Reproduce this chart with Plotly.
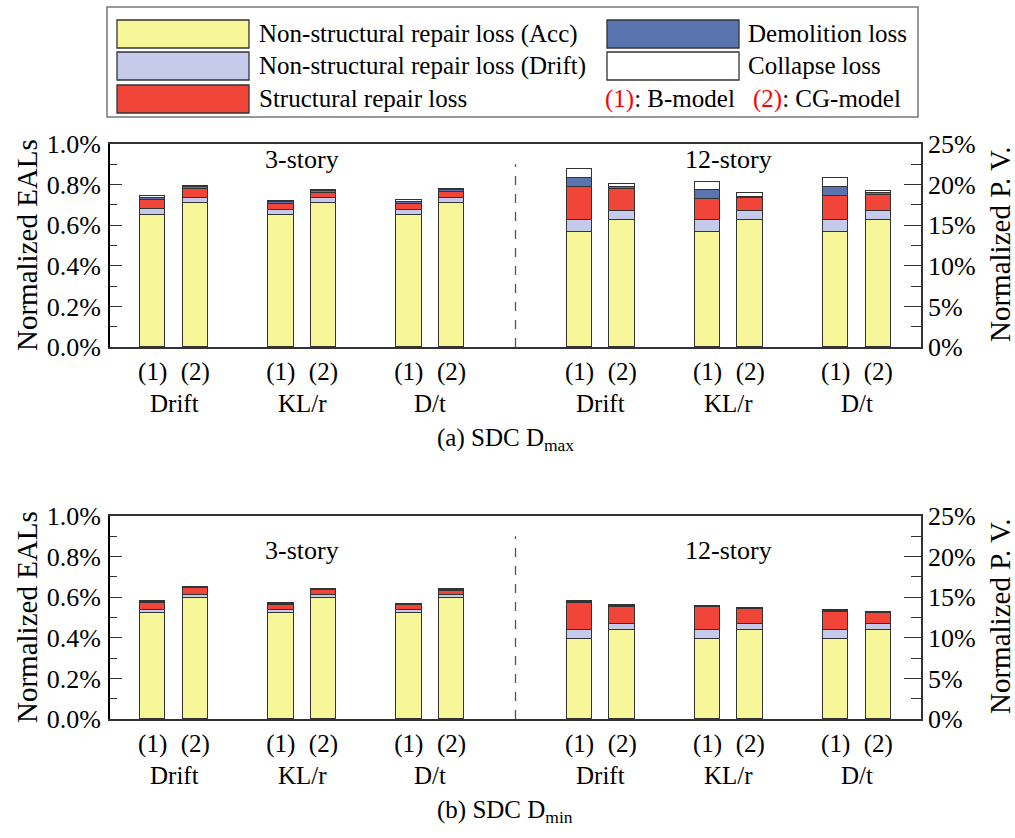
import plotly.graph_objects as go

W, H = 1015, 838

# ---- categories -------------------------------------------------------------
groups = ["Drift", "KL/r", "D/t", "Drift", "KL/r", "D/t"]
models = ["(1)", "(2)"]
x_pos = [0, 1, 3, 4, 6, 7, 10, 11, 13, 14, 16, 17]
group_centers = [0.5, 3.5, 6.5, 10.5, 13.5, 16.5]

# ---- (a) SDC Dmax : normalized EAL components (%) -------------------------
dmax_acc = [0.649, 0.709, 0.649, 0.709, 0.649, 0.709, 0.565, 0.626, 0.565, 0.626, 0.565, 0.626]
dmax_drift = [0.029, 0.023, 0.026, 0.023, 0.026, 0.023, 0.061, 0.042, 0.061, 0.042, 0.061, 0.042]
dmax_struct = [0.0445, 0.048, 0.028, 0.027, 0.031, 0.030, 0.161, 0.112, 0.101, 0.068, 0.116, 0.081]
dmax_demo = [0.0125, 0.010, 0.010, 0.009, 0.010, 0.010, 0.044, 0.007, 0.045, 0.004, 0.045, 0.008]
dmax_coll = [0.007, 0.005, 0.006, 0.005, 0.0065, 0.005, 0.044, 0.018, 0.042, 0.017, 0.044, 0.013]

# ---- (b) SDC Dmin : normalized EAL components (%) -------------------------
dmin_acc = [0.521, 0.594, 0.521, 0.594, 0.521, 0.594, 0.396, 0.437, 0.396, 0.437, 0.396, 0.437]
dmin_drift = [0.014, 0.015, 0.014, 0.015, 0.014, 0.015, 0.044, 0.029, 0.044, 0.029, 0.044, 0.029]
dmin_struct = [0.038, 0.035, 0.028, 0.025, 0.025, 0.023, 0.130, 0.087, 0.110, 0.074, 0.087, 0.058]
dmin_demo = [0.005, 0.004, 0.005, 0.005, 0.005, 0.005, 0.008, 0.005, 0.005, 0.003, 0.007, 0.003]
dmin_coll = [0.002, 0.002, 0.002, 0.003, 0.002, 0.002, 0.003, 0.002, 0.002, 0.002, 0.003, 0.002]

series_names = [
    "Non-structural repair loss (Acc)",
    "Non-structural repair loss (Drift)",
    "Structural repair loss",
    "Demolition loss",
    "Collapse loss",
]
series_colors = ["#F7F799", "#C5CAEA", "#F04538", "#5A74B0", "#FFFFFF"]

FONT = "Times New Roman, Liberation Serif, DejaVu Serif, serif"
EDGE = "#333333"


def px_x(x):
    return x / W


def px_y(y):
    return 1 - y / H


fig = go.Figure()

panels = [
    ("x", "y", [dmax_acc, dmax_drift, dmax_struct, dmax_demo, dmax_coll]),
    ("x2", "y2", [dmin_acc, dmin_drift, dmin_struct, dmin_demo, dmin_coll]),
]
for xa, ya, comps in panels:
    for name, color, vals in zip(series_names, series_colors, comps):
        fig.add_trace(go.Bar(
            x=x_pos, y=vals, name=name, xaxis=xa, yaxis=ya,
            width=0.6, marker=dict(color=color, line=dict(color=EDGE, width=1)),
            showlegend=False,
        ))

# invisible traces so the present-value axes are drawn
fig.add_trace(go.Scatter(x=[0], y=[0], xaxis="x", yaxis="y3", mode="markers",
                         marker=dict(opacity=0), showlegend=False, hoverinfo="skip"))
fig.add_trace(go.Scatter(x=[0], y=[0], xaxis="x2", yaxis="y4", mode="markers",
                         marker=dict(opacity=0), showlegend=False, hoverinfo="skip"))

xdom = [px_x(110), px_x(921)]
ydom_a = [px_y(347), px_y(144)]
ydom_b = [px_y(719), px_y(516)]

tick_font = dict(family=FONT, size=26, color="black")


def x_axis(anchor):
    return dict(
        domain=xdom, anchor=anchor, range=[-1, 18], automargin=False,
        tickvals=x_pos, ticktext=models * 6, ticks="",
        tickfont=dict(family=FONT, size=25, color="black"),
        ticklabelstandoff=1,
        showline=True, linecolor=EDGE, linewidth=1.5, mirror=True,
        showgrid=False, zeroline=False,
    )


def eal_axis(dom, anchor):
    return dict(
        domain=dom, anchor=anchor, range=[0, 1.0], automargin=False,
        tickvals=[0, 0.2, 0.4, 0.6, 0.8, 1.0],
        ticktext=["0.0%", "0.2%", "0.4%", "0.6%", "0.8%", "1.0%"],
        ticks="inside", ticklen=12, tickwidth=1.3, tickcolor=EDGE,
        minor=dict(dtick=0.1, ticks="inside", ticklen=7, tickwidth=1.3, tickcolor=EDGE),
        tickfont=tick_font, ticklabelstandoff=2,
        showline=True, linecolor="black", linewidth=2,
        showgrid=False, zeroline=False,
    )


def pv_axis(over, anchor):
    return dict(
        overlaying=over, anchor=anchor, side="right", range=[0, 25], automargin=False,
        tickvals=[0, 5, 10, 15, 20, 25],
        ticktext=["0%", "5%", "10%", "15%", "20%", "25%"],
        ticks="inside", ticklen=17, tickwidth=1.3, tickcolor=EDGE,
        minor=dict(dtick=2.5, ticks="inside", ticklen=10, tickwidth=1.3, tickcolor=EDGE),
        tickfont=tick_font, ticklabelstandoff=0,
        showline=True, linecolor=EDGE, linewidth=1.5,
        showgrid=False, zeroline=False,
    )


shapes = []
annotations = []

# dashed separator between building heights
for xa, ya in [("x", "y"), ("x2", "y2")]:
    shapes.append(dict(type="line", xref=xa, yref=ya, x0=8.5, x1=8.5, y0=0, y1=0.9,
                       line=dict(color="#555555", width=1.3, dash="dash")))


def text(x, y, s, size=25, anchor="center", color="black", angle=0):
    annotations.append(dict(
        xref="paper", yref="paper", x=px_x(x), y=px_y(y), text=s,
        showarrow=False, xanchor=anchor, yanchor="middle", textangle=angle,
        font=dict(family=FONT, size=size, color=color),
    ))


for xa, ya, y_story, y_grp, y_cap, cap in [
    ("x", "y", 159, 403, 439, "(a) SDC D<sub>max</sub>"),
    ("x2", "y2", 550, 775, 811, "(b) SDC D<sub>min</sub>"),
]:
    annotations.append(dict(xref=xa, yref="paper", x=3.5, y=px_y(y_story), text="3-story",
                            showarrow=False, yanchor="middle",
                            font=dict(family=FONT, size=26, color="black")))
    annotations.append(dict(xref=xa, yref="paper", x=13.5, y=px_y(y_story), text="12-story",
                            showarrow=False, yanchor="middle",
                            font=dict(family=FONT, size=26, color="black")))
    for g, c in zip(groups, group_centers):
        annotations.append(dict(xref=xa, yref="paper", x=c, y=px_y(y_grp), text=g,
                                showarrow=False, yanchor="middle",
                                font=dict(family=FONT, size=25, color="black")))
    text(505, y_cap, cap, size=25)

# axis titles
for yc in [245, 617]:
    text(27, yc, "Normalized EALs", size=29, angle=-90)
    text(1000, yc, "Normalized P. V.", size=29, angle=-90)

# legend box
shapes.append(dict(type="rect", xref="paper", yref="paper",
                   x0=px_x(107), x1=px_x(918), y0=px_y(117), y1=px_y(7),
                   line=dict(color="#777777", width=1.5), fillcolor="white", layer="below"))
legend_slots = [
    (117, 249, 20, 48, 257),
    (117, 249, 52, 80, 257),
    (117, 249, 85, 113, 257),
    (607, 739, 20, 48, 746),
    (607, 739, 52, 80, 746),
]
for (x0, x1, y0, y1, tx), name, color in zip(legend_slots, series_names, series_colors):
    shapes.append(dict(type="rect", xref="paper", yref="paper",
                       x0=px_x(x0), x1=px_x(x1), y0=px_y(y1), y1=px_y(y0),
                       line=dict(color=EDGE, width=1.3), fillcolor=color))
    text(tx, (y0 + y1) / 2, name, size=25, anchor="left")
text(603, 99, "<span style='color:red'>(1)</span>: B-model", size=25, anchor="left")
text(751, 99, "<span style='color:red'>(2)</span>: CG-model", size=25, anchor="left")

fig.update_layout(
    width=W, height=H, autosize=False,
    margin=dict(l=0, r=0, t=0, b=0, pad=0),
    paper_bgcolor="white", plot_bgcolor="white",
    barmode="stack", bargap=0,
    font=dict(family=FONT, color="black"),
    xaxis=x_axis("y"), yaxis=eal_axis(ydom_a, "x"),
    xaxis2=x_axis("y2"), yaxis2=eal_axis(ydom_b, "x2"),
    yaxis3=pv_axis("y", "x"), yaxis4=pv_axis("y2", "x2"),
    shapes=shapes, annotations=annotations,
    showlegend=False,
)

fig.write_html("out.html")
